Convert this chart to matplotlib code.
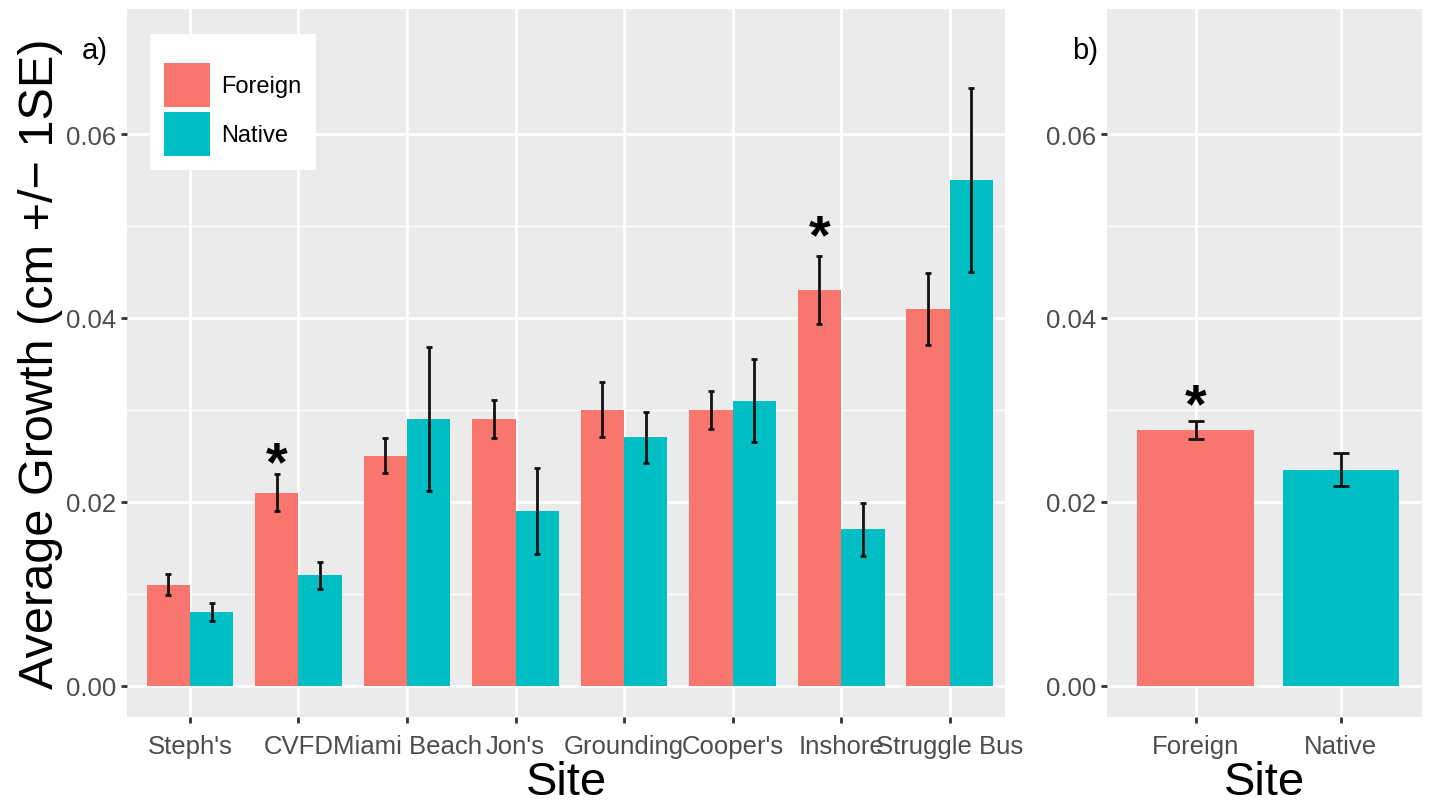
import matplotlib
matplotlib.use("Agg")
import matplotlib.pyplot as plt
import numpy as np

plt.rcParams['font.family'] = ['Liberation Sans', 'DejaVu Sans']

# panel a) values per site
sites = ["Steph's", "CVFD", "Miami Beach", "Jon's", "Grounding", "Cooper's", "Inshore", "Struggle Bus"]
foreign_mean = [0.011, 0.021, 0.025, 0.029, 0.030, 0.030, 0.043, 0.041]
foreign_se = [0.0011, 0.0020, 0.0019, 0.0021, 0.0030, 0.0021, 0.0037, 0.0039]
native_mean = [0.008, 0.012, 0.029, 0.019, 0.027, 0.031, 0.017, 0.055]
native_se = [0.0010, 0.0015, 0.0078, 0.0047, 0.0028, 0.0045, 0.0029, 0.0100]
star_sites = ["CVFD", "Inshore"]
star_y_a = [0.0240, 0.0487]

# panel b) pooled
origin = ["Foreign", "Native"]
pooled_mean = [0.0278, 0.0235]
pooled_se = [0.0010, 0.0018]
star_y_b = 0.0303

RED = '#F8766D'
TEAL = '#00BFC4'
BG = '#EBEBEB'
YLIM = (-0.0034, 0.0736)


def style_axes(ax):
    ax.set_facecolor(BG)
    for s in ax.spines.values():
        s.set_visible(False)
    ax.set_ylim(*YLIM)
    ax.set_yticks([0, 0.02, 0.04, 0.06])
    ax.set_yticklabels(['0.00', '0.02', '0.04', '0.06'])
    ax.set_yticks([0.01, 0.03, 0.05], minor=True)
    ax.grid(which='major', color='white', linewidth=2.0)
    ax.grid(which='minor', axis='y', color='white', linewidth=1.0)
    ax.set_axisbelow(True)
    ax.tick_params(which='major', length=4, width=2, color='#333333',
                   labelsize=18.5, labelcolor='#4D4D4D', pad=4)
    ax.tick_params(axis='x', pad=8)
    ax.tick_params(which='minor', length=0)
    ax.set_xlabel('Site', fontsize=34, labelpad=2)


fig = plt.figure(figsize=(14.29, 8.03), dpi=100)

# ---- panel a
ax1 = fig.add_axes([127 / 1429, 85 / 803, 878 / 1429, 708 / 803])
style_axes(ax1)
x = np.arange(len(sites))
w = 0.4
ax1.bar(x - w / 2, foreign_mean, w, color=RED, label='Foreign', zorder=2)
ax1.bar(x + w / 2, native_mean, w, color=TEAL, label='Native', zorder=2)
ax1.errorbar(x - w / 2, foreign_mean, yerr=foreign_se, fmt='none', ecolor='#111111',
             elinewidth=2, capsize=2, capthick=2, zorder=3)
ax1.errorbar(x + w / 2, native_mean, yerr=native_se, fmt='none', ecolor='#111111',
             elinewidth=2, capsize=2, capthick=2, zorder=3)
for s, yv in zip(star_sites, star_y_a):
    ax1.text(sites.index(s) - w / 2, yv, '*', fontsize=40, fontweight='bold',
             ha='center', va='center')
ax1.set_xticks(x)
ax1.set_xticklabels(sites)
ax1.set_xlim(-0.58, 7.51)
ax1.set_ylabel('Average Growth (cm +/\u2212 1SE)', fontsize=35, labelpad=2)
leg = ax1.legend(loc='upper left', bbox_to_anchor=(0.0123, 0.9815), fontsize=17,
                 title=' ', title_fontsize=8,
                 frameon=True, fancybox=False, edgecolor='white', framealpha=1,
                 handlelength=1.95, handleheight=2.5, labelspacing=0.2,
                 borderpad=0.6, handletextpad=0.5)
leg.get_frame().set_linewidth(0)
ax1.text(-0.051, 0.931, 'a)', transform=ax1.transAxes, fontsize=21)

# ---- panel b
ax2 = fig.add_axes([1107 / 1429, 85 / 803, 315 / 1429, 708 / 803])
style_axes(ax2)
xb = np.arange(len(origin))
ax2.bar(xb, pooled_mean, 0.8, color=[RED, TEAL], zorder=2)
ax2.errorbar(xb, pooled_mean, yerr=pooled_se, fmt='none', ecolor='#111111',
             elinewidth=2, capsize=6, capthick=2, zorder=3)
ax2.text(0, star_y_b, '*', fontsize=40, fontweight='bold', ha='center', va='center')
ax2.set_xticks(xb)
ax2.set_xticklabels(origin)
ax2.set_xlim(-0.61, 1.56)
ax2.text(-0.111, 0.931, 'b)', transform=ax2.transAxes, fontsize=21)

fig.savefig('out.png', dpi=100, facecolor='white')
